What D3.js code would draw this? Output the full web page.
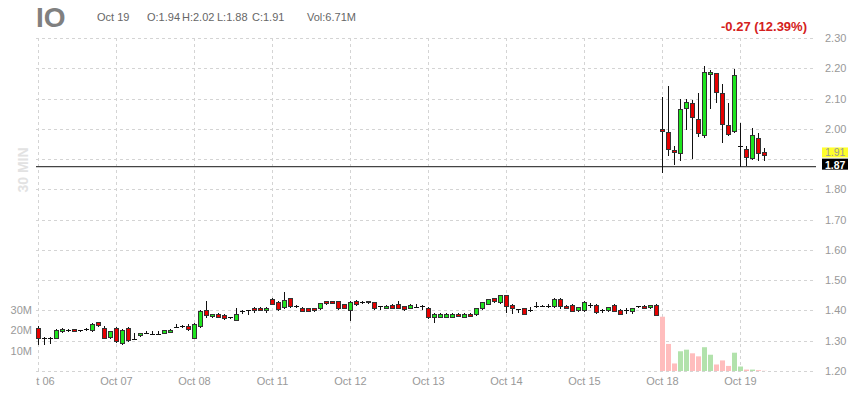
<!DOCTYPE html>
<meta charset="utf-8">

<!-- Load d3.js -->
<script src="https://d3js.org/d3.v7.min.js"></script>

<style>
body { margin: 0; background: #fff; }
text { font-family: "Liberation Sans", Arial, sans-serif; }
.grid line { stroke: #d4d4d4; stroke-dasharray: 3,3; shape-rendering: crispEdges; }
.axis text { fill: #999; font-size: 11px; }
.axis path { display: none; }
</style>

<div id="chart"></div>

<script>

// ticker + quote line
var symbol = "IO";
var dayVolume = "6.71M";
var changeText = "-0.27 (12.39%)";
var interval = "30 MIN";

// one label per trading day, 13 half-hour bars per day
var dayLabels = ["Oct 06", "Oct 07", "Oct 08", "Oct 11", "Oct 12", "Oct 13", "Oct 14", "Oct 15", "Oct 18", "Oct 19"];
var barsPerDay = 13;

var opens = [
  1.343,1.310,1.310,1.310,1.331,1.336,1.338,1.336,1.340,1.336,1.362,1.343,1.312,
  1.343,1.292,1.343,1.307,1.318,1.327,1.323,1.323,1.325,1.332,1.345,1.348,1.350,
  1.310,1.348,1.400,1.380,1.388,1.386,1.378,1.370,1.398,1.400,1.409,1.409,1.402,
  1.438,1.427,1.411,1.441,1.416,1.409,1.408,1.408,1.408,1.430,1.430,1.430,1.420,
  1.400,1.431,1.427,1.426,1.427,1.414,1.409,1.419,1.422,1.414,1.409,1.411,1.416,
  1.408,1.380,1.380,1.380,1.380,1.389,1.380,1.389,1.389,1.408,1.422,1.440,1.427,
  1.450,1.419,1.405,1.408,1.400,1.414,1.416,1.414,1.414,1.438,1.416,1.419,1.400,
  1.400,1.418,1.419,1.403,1.400,1.419,1.402,1.400,1.397,1.415,1.416,1.410,1.419,
  1.998,1.990,1.930,1.919,2.068,2.084,2.032,1.981,2.183,2.186,2.118,2.011,1.994,
  1.942,1.933,1.906,1.971,1.923
];
var highs = [
  1.347,1.311,1.311,1.340,1.341,1.339,1.340,1.337,1.343,1.358,1.363,1.348,1.333,
  1.345,1.338,1.345,1.325,1.327,1.331,1.332,1.331,1.336,1.338,1.356,1.352,1.356,
  1.360,1.400,1.430,1.389,1.390,1.388,1.380,1.408,1.400,1.401,1.410,1.410,1.410,
  1.440,1.430,1.461,1.442,1.418,1.410,1.409,1.409,1.426,1.432,1.431,1.432,1.421,
  1.430,1.434,1.430,1.431,1.428,1.415,1.417,1.420,1.431,1.415,1.420,1.420,1.417,
  1.410,1.390,1.390,1.390,1.390,1.390,1.390,1.390,1.409,1.428,1.439,1.442,1.451,
  1.452,1.421,1.406,1.409,1.411,1.427,1.417,1.422,1.440,1.440,1.418,1.420,1.412,
  1.431,1.425,1.420,1.404,1.413,1.420,1.405,1.408,1.409,1.416,1.417,1.419,1.420,
  2.105,2.140,1.942,2.100,2.097,2.095,2.119,2.208,2.194,2.186,2.148,2.084,2.197,
  2.019,1.942,2.003,1.985,1.935
];
var lows = [
  1.290,1.290,1.292,1.308,1.329,1.333,1.331,1.331,1.336,1.333,1.350,1.308,1.310,
  1.297,1.290,1.300,1.305,1.316,1.325,1.322,1.322,1.324,1.331,1.344,1.346,1.336,
  1.308,1.345,1.380,1.378,1.377,1.372,1.376,1.368,1.393,1.389,1.395,1.401,1.394,
  1.420,1.403,1.409,1.412,1.412,1.399,1.398,1.399,1.405,1.421,1.424,1.406,1.407,
  1.369,1.419,1.425,1.425,1.405,1.405,1.408,1.409,1.407,1.402,1.408,1.410,1.405,
  1.376,1.362,1.379,1.379,1.379,1.383,1.379,1.382,1.384,1.406,1.421,1.429,1.426,
  1.395,1.392,1.394,1.388,1.399,1.413,1.415,1.413,1.413,1.408,1.408,1.399,1.399,
  1.399,1.410,1.390,1.394,1.399,1.399,1.388,1.390,1.392,1.413,1.408,1.409,1.385,
  1.858,1.912,1.885,1.896,2.000,1.903,1.976,1.974,2.068,2.089,1.955,1.979,1.989,
  1.876,1.880,1.901,1.896,1.896
];
var closes = [
  1.310,1.310,1.310,1.336,1.339,1.336,1.333,1.336,1.340,1.356,1.351,1.310,1.331,
  1.299,1.336,1.303,1.307,1.326,1.327,1.323,1.323,1.334,1.337,1.345,1.348,1.339,
  1.356,1.398,1.383,1.387,1.379,1.376,1.378,1.389,1.398,1.400,1.402,1.402,1.409,
  1.422,1.405,1.433,1.414,1.416,1.400,1.399,1.400,1.424,1.422,1.425,1.408,1.408,
  1.428,1.420,1.427,1.430,1.408,1.414,1.416,1.410,1.408,1.403,1.419,1.411,1.416,
  1.378,1.389,1.389,1.389,1.389,1.384,1.389,1.383,1.408,1.427,1.438,1.430,1.450,
  1.414,1.409,1.405,1.389,1.400,1.414,1.416,1.414,1.438,1.414,1.409,1.400,1.411,
  1.427,1.418,1.397,1.403,1.411,1.400,1.389,1.400,1.408,1.415,1.409,1.418,1.386,
  1.990,1.933,1.923,2.064,2.087,2.039,1.985,2.189,2.189,2.122,2.014,1.981,2.178,
  1.942,1.906,1.981,1.923,1.912
];

// volume (millions) only known for the last bars
var volumes = [26.7,13.3,3.7,9.7,10.5,8.7,7.2,11.7,8.0,3.2,5.2,2.5,9.0, 2.2,0.7,0.7,0.4,0.1];

var priceTicks = [2.30,2.20,2.10,2.00,1.90,1.80,1.70,1.60,1.50,1.40,1.30,1.20];
var volTicks = [10, 20, 30];
var refLevel = 1.875;

// layout
var width = 865, height = 400;
var plotLeft = 36, plotRight = 816, plotTop = 38, plotBottom = 371;

var svg = d3.select("#chart").append("svg")
    .attr("width", width)
    .attr("height", height);

var nBars = closes.length;
var bars = d3.range(nBars).map(function(i) {
  return {i: i, o: opens[i], h: highs[i], l: lows[i], c: closes[i]};
});
var dayStarts = dayLabels.map(function(d, k) { return k * barsPerDay; });

// scales
var x = d3.scaleLinear().domain([0, 130]).range([38, 818]);
var y = d3.scaleLinear().domain([1.20, 2.30]).range([plotBottom, plotTop]);
var yVol = d3.scaleLinear().domain([0, 30]).range([plotBottom, 310]);

// grid
var grid = svg.append("g").attr("class", "grid");
grid.selectAll(".h").data(priceTicks).enter().append("line")
    .attr("x1", plotLeft).attr("x2", plotRight)
    .attr("y1", function(d) { return Math.round(y(d)) + 0.5; })
    .attr("y2", function(d) { return Math.round(y(d)) + 0.5; });
grid.selectAll(".v").data(dayStarts).enter().append("line")
    .attr("x1", function(d) { return x(d) + 0.5; })
    .attr("x2", function(d) { return x(d) + 0.5; })
    .attr("y1", plotTop).attr("y2", plotBottom + 2);

// volume bars
var volOffset = nBars - volumes.length;
svg.append("g").selectAll("rect")
    .data(volumes).enter().append("rect")
    .attr("x", function(d, j) { return x(volOffset + j) - 2; })
    .attr("width", 5)
    .attr("y", function(d) { return yVol(d); })
    .attr("height", function(d) { return plotBottom - yVol(d); })
    .style("fill", function(d, j) {
      var i = volOffset + j;
      return closes[i] >= opens[i] ? "#b2e2ac" : "#ffbdbd";
    });

// reference line
svg.append("line")
    .attr("x1", plotLeft).attr("x2", plotRight)
    .attr("y1", y(refLevel)).attr("y2", y(refLevel))
    .style("stroke", "#444").style("stroke-width", 1.4);

// candles
var candle = svg.append("g").selectAll("g")
    .data(bars).enter().append("g");

candle.append("line")
    .attr("x1", function(d) { return x(d.i) + 0.5; })
    .attr("x2", function(d) { return x(d.i) + 0.5; })
    .attr("y1", function(d) { return Math.round(y(d.h)); })
    .attr("y2", function(d) { return Math.round(y(d.l)) + 1; })
    .style("stroke", "#111").style("stroke-width", 1);

candle.filter(function(d) { return d.o !== d.c; })
  .append("rect")
    .attr("x", function(d) { return x(d.i) - 1.5; })
    .attr("width", 4)
    .attr("y", function(d) { return Math.round(y(Math.max(d.o, d.c))) + 0.5; })
    .attr("height", function(d) { return Math.max(1, Math.round(Math.abs(y(d.o) - y(d.c)))); })
    .style("fill", function(d) { return d.c > d.o ? "#1ee51e" : "#e60000"; })
    .style("stroke", "#333").style("stroke-width", 1);

candle.filter(function(d) { return d.o === d.c; })
  .append("line")
    .attr("x1", function(d) { return x(d.i) - 2; })
    .attr("x2", function(d) { return x(d.i) + 3; })
    .attr("y1", function(d) { return Math.round(y(d.o)) + 0.5; })
    .attr("y2", function(d) { return Math.round(y(d.o)) + 0.5; })
    .style("stroke", "#111").style("stroke-width", 1);

// axes
var lastClose = closes[nBars - 1];

svg.append("g")
    .attr("class", "axis")
    .attr("transform", "translate(822,0)")
    .call(d3.axisRight(y).tickValues(priceTicks.filter(function(t) {
        return Math.abs(y(t) - y(lastClose)) > 12;
      })).tickSize(0).tickPadding(3).tickFormat(d3.format(".2f")));

svg.append("g")
    .attr("class", "axis")
    .attr("transform", "translate(35,0)")
    .call(d3.axisLeft(yVol).tickValues(volTicks).tickSize(0).tickPadding(3)
      .tickFormat(function(d) { return d + "M"; }));

svg.append("clipPath").attr("id", "xclip")
  .append("rect").attr("x", plotLeft).attr("y", 0).attr("width", width - plotLeft).attr("height", height);

svg.append("g")
    .attr("class", "axis")
    .attr("clip-path", "url(#xclip)")
  .append("g")
    .attr("transform", "translate(0," + plotBottom + ")")
    .call(d3.axisBottom(x).tickValues(dayStarts).tickSize(0).tickPadding(6)
      .tickFormat(function(d, k) { return dayLabels[k]; }));

// price flags: last close (yellow) and reference level (black)
svg.append("rect")
    .attr("x", 822).attr("y", y(lastClose) - 8)
    .attr("width", 26).attr("height", 10)
    .style("fill", "#ffff2a");
svg.append("text")
    .attr("x", 825).attr("y", y(lastClose) + 1)
    .style("font-size", "10.5px").style("fill", "#999")
    .text(lastClose.toFixed(2));

svg.append("rect")
    .attr("x", 822).attr("y", y(refLevel) - 8)
    .attr("width", 26).attr("height", 11)
    .style("fill", "#000");
svg.append("text")
    .attr("x", 825).attr("y", y(refLevel) + 2)
    .style("font-size", "10.5px").style("font-weight", "bold").style("fill", "#fff")
    .text((Math.floor(refLevel * 100) / 100).toFixed(2));

// header: current day's O/H/L/C
var first = (dayLabels.length - 1) * barsPerDay;
var quote = [
  "O:" + opens[first].toFixed(2),
  "H:" + d3.max(highs.slice(first)).toFixed(2),
  "L:" + d3.min(lows.slice(first)).toFixed(2),
  "C:" + lastClose.toFixed(2)
];

svg.append("text")
    .attr("x", 36).attr("y", 27)
    .style("font-size", "28px").style("font-weight", "bold").style("fill", "#808080")
    .text(symbol);

svg.append("text")
    .attr("x", 97).attr("y", 21)
    .style("font-size", "11px").style("fill", "#666")
    .text(dayLabels[dayLabels.length - 1]);

svg.selectAll(".quote").data(quote).enter().append("text")
    .attr("x", function(d, k) { return 147 + k * 35; })
    .attr("y", 21)
    .style("font-size", "11px").style("fill", "#666")
    .text(function(d) { return d; });

svg.append("text")
    .attr("x", 307).attr("y", 21)
    .style("font-size", "11px").style("fill", "#666")
    .text("Vol:" + dayVolume);

svg.append("text")
    .attr("x", 807).attr("y", 31)
    .attr("text-anchor", "end")
    .style("font-size", "13px").style("font-weight", "bold").style("fill", "#d42020")
    .text(changeText);

svg.append("text")
    .attr("transform", "translate(28,170) rotate(-90)")
    .attr("text-anchor", "middle")
    .style("font-size", "14px").style("font-weight", "bold").style("fill", "#e2e2e2")
    .text(interval);

</script>
